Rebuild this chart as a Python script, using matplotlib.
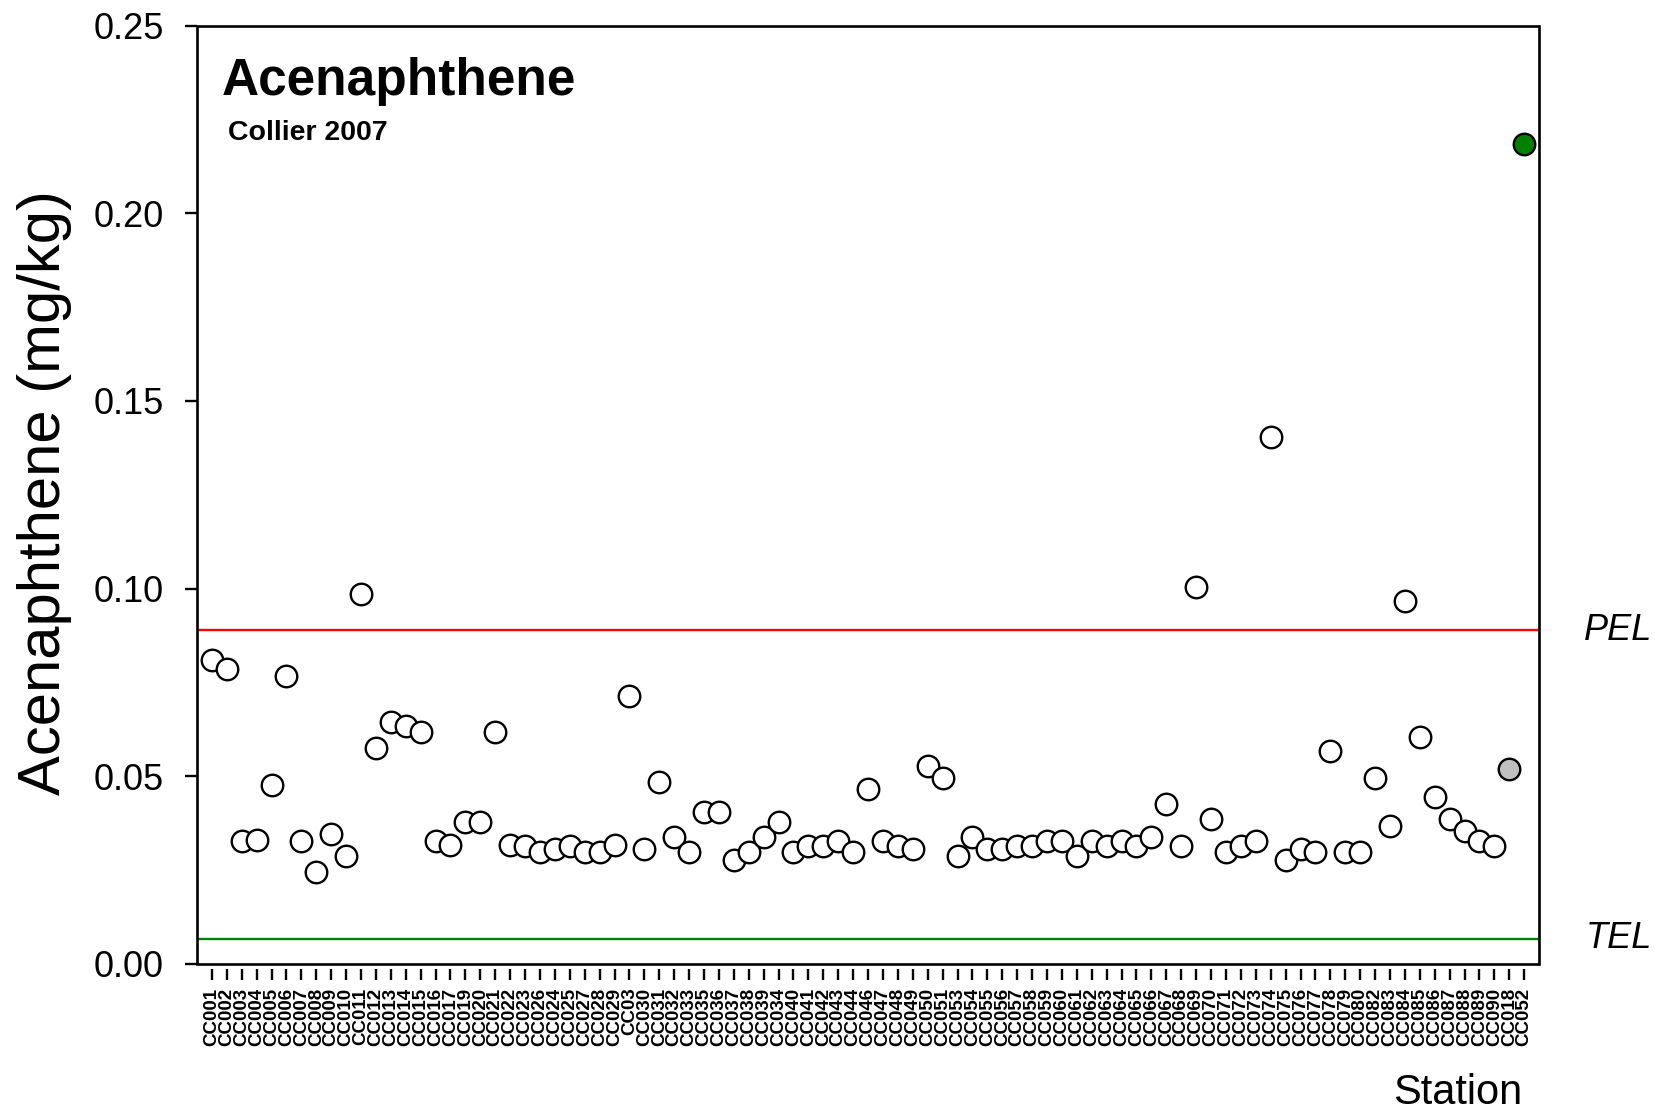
import numpy as np
import matplotlib.pyplot as plt
from matplotlib.patches import Rectangle
from matplotlib.transforms import blended_transform_factory

plt.rcParams['font.family'] = ['Liberation Sans', 'DejaVu Sans']

##########################################################################

stations = ['CC001', 'CC002', 'CC003', 'CC004', 'CC005', 'CC006', 'CC007', 'CC008', 'CC009', 'CC010',
            'CC011', 'CC012', 'CC013', 'CC014', 'CC015', 'CC016', 'CC017', 'CC019', 'CC020', 'CC021',
            'CC022', 'CC023', 'CC026', 'CC024', 'CC025', 'CC027', 'CC028', 'CC029', 'CC03', 'CC030',
            'CC031', 'CC032', 'CC033', 'CC035', 'CC036', 'CC037', 'CC038', 'CC039', 'CC034', 'CC040',
            'CC041', 'CC042', 'CC043', 'CC044', 'CC046', 'CC047', 'CC048', 'CC049', 'CC050', 'CC051',
            'CC053', 'CC054', 'CC055', 'CC056', 'CC057', 'CC058', 'CC059', 'CC060', 'CC061', 'CC062',
            'CC063', 'CC064', 'CC065', 'CC066', 'CC067', 'CC068', 'CC069', 'CC070', 'CC071', 'CC072',
            'CC073', 'CC074', 'CC075', 'CC076', 'CC077', 'CC078', 'CC079', 'CC080', 'CC082', 'CC083',
            'CC084', 'CC085', 'CC086', 'CC087', 'CC088', 'CC089', 'CC090', 'CC018', 'CC052']

conc = [0.0810, 0.0785, 0.0327, 0.0330, 0.0476, 0.0766, 0.0327, 0.0245, 0.0346, 0.0287,
        0.0985, 0.0574, 0.0645, 0.0633, 0.0617, 0.0327, 0.0318, 0.0377, 0.0377, 0.0617,
        0.0318, 0.0315, 0.0298, 0.0307, 0.0315, 0.0298, 0.0298, 0.0318, 0.0715, 0.0307,
        0.0484, 0.0338, 0.0298, 0.0405, 0.0405, 0.0276, 0.0298, 0.0338, 0.0377, 0.0298,
        0.0315, 0.0315, 0.0327, 0.0298, 0.0467, 0.0327, 0.0315, 0.0307, 0.0526, 0.0495,
        0.0287, 0.0338, 0.0307, 0.0307, 0.0315, 0.0315, 0.0327, 0.0327, 0.0287, 0.0327,
        0.0315, 0.0327, 0.0315, 0.0338, 0.0425, 0.0315, 0.1005, 0.0386, 0.0298, 0.0315,
        0.0327, 0.1405, 0.0276, 0.0307, 0.0298, 0.0566, 0.0298, 0.0298, 0.0495, 0.0366,
        0.0966, 0.0605, 0.0445, 0.0386, 0.0355, 0.0327, 0.0315, 0.0518, 0.2185]

# special stations (reference / background sites)
special = {'CC018': '#c0c0c0', 'CC052': '#008000'}

PEL = 0.0889
TEL = 0.00671

##########################################################################

fig = plt.figure(figsize=(16.55, 11.13), dpi=100)
ax = fig.add_axes([0.119, 0.134, 0.811, 0.843])

x = np.arange(len(stations))
colors = [special.get(s, 'white') for s in stations]
for xi, yi, c in zip(x, conc, colors):
    ax.plot(xi, yi, 'o', ms=15.5, mfc=c, mec='black', mew=1.7, zorder=3)

# Guideline levels
ax.axhline(PEL, color='red', lw=1.7, zorder=2)
ax.axhline(TEL, color='green', lw=1.7, zorder=2)
tr = blended_transform_factory(ax.transAxes, ax.transData)
ax.text(1.033, PEL, 'PEL', transform=tr, fontsize=26, style='italic', va='center', ha='left')
ax.text(1.035, TEL, 'TEL', transform=tr, fontsize=26, style='italic', va='center', ha='left')

# Box drawn by hand, x ticks detached below it
for s in ax.spines.values():
    s.set_visible(False)
ax.spines['bottom'].set_position(('outward', 4))
ax.add_patch(Rectangle((0, 0), 1, 1, transform=ax.transAxes, fill=False,
                       lw=1.9, ec='black', clip_on=False, zorder=4))

ax.set_xlim(-1, len(stations))
ax.set_ylim(0, 0.25)
ax.set_yticks([0, 0.05, 0.10, 0.15, 0.20, 0.25])
ax.set_yticklabels(['0.00', '0.05', '0.10', '0.15', '0.20', '0.25'])
ax.set_xticks(x)
ax.set_xticklabels(stations, rotation=90, fontsize=13.5, fontweight='bold')
ax.tick_params(axis='y', direction='out', length=9, width=1.7, labelsize=26, pad=15)
ax.tick_params(axis='x', direction='out', length=8, width=1.7, pad=5)

fig.text(0.0266, 0.557, 'Acenaphthene (mg/kg)', fontsize=43, rotation=90, ha='center', va='center')
fig.text(0.920, 0.008, 'Station', fontsize=30, ha='right', va='baseline')
fig.text(0.134, 0.9146, 'Acenaphthene', fontsize=37, fontweight='bold', va='baseline')
fig.text(0.138, 0.874, 'Collier 2007', fontsize=20.5, fontweight='bold', va='baseline')

plt.savefig('out.png', dpi=100)
